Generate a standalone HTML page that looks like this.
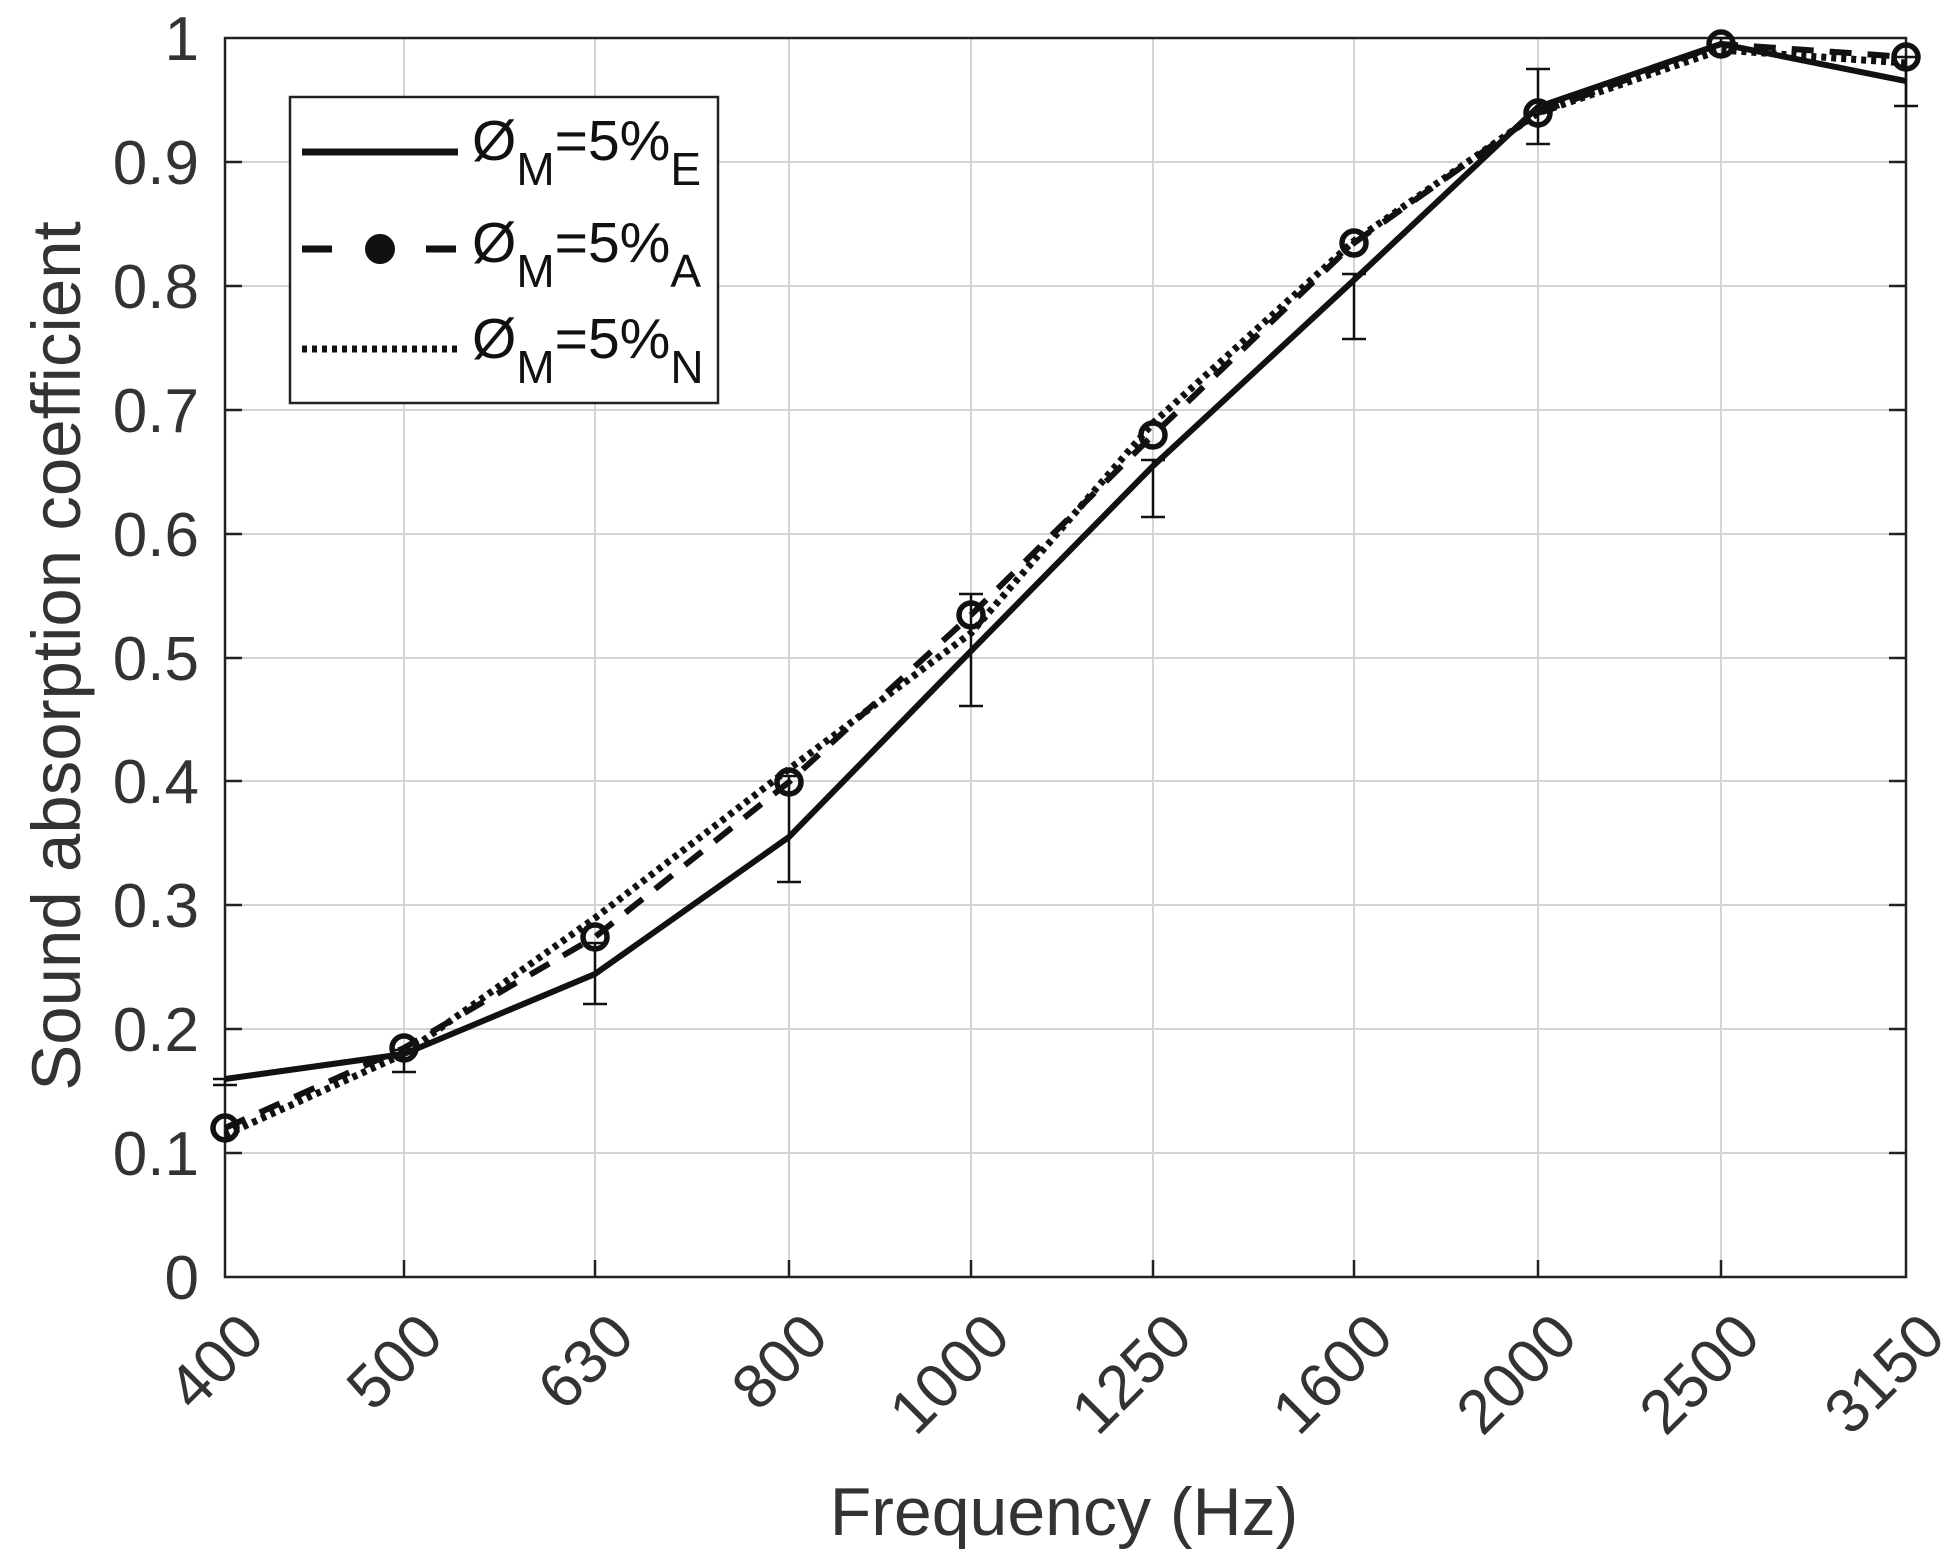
<!DOCTYPE html>
<html><head><meta charset="utf-8"><style>html,body{margin:0;padding:0;background:#fff}svg{display:block}</style></head>
<body>
<svg width="1960" height="1563" viewBox="0 0 1960 1563" xmlns="http://www.w3.org/2000/svg" font-family="Liberation Sans, sans-serif">
<rect width="1960" height="1563" fill="#fff"/>
<g stroke="#d4d4d4" stroke-width="2">
<line x1="404" y1="38" x2="404" y2="1277"/><line x1="595" y1="38" x2="595" y2="1277"/><line x1="789" y1="38" x2="789" y2="1277"/><line x1="971" y1="38" x2="971" y2="1277"/><line x1="1153" y1="38" x2="1153" y2="1277"/><line x1="1354" y1="38" x2="1354" y2="1277"/><line x1="1538" y1="38" x2="1538" y2="1277"/><line x1="1721" y1="38" x2="1721" y2="1277"/>
<line x1="225" y1="162" x2="1906" y2="162"/><line x1="225" y1="286" x2="1906" y2="286"/><line x1="225" y1="410" x2="1906" y2="410"/><line x1="225" y1="534" x2="1906" y2="534"/><line x1="225" y1="658" x2="1906" y2="658"/><line x1="225" y1="781" x2="1906" y2="781"/><line x1="225" y1="905" x2="1906" y2="905"/><line x1="225" y1="1029" x2="1906" y2="1029"/><line x1="225" y1="1153" x2="1906" y2="1153"/>
</g>
<rect x="225" y="38" width="1681" height="1239" fill="none" stroke="#222" stroke-width="2.5"/>
<g stroke="#222" stroke-width="2.5">
<line x1="404" y1="1277" x2="404" y2="1260"/><line x1="595" y1="1277" x2="595" y2="1260"/><line x1="789" y1="1277" x2="789" y2="1260"/><line x1="971" y1="1277" x2="971" y2="1260"/><line x1="1153" y1="1277" x2="1153" y2="1260"/><line x1="1354" y1="1277" x2="1354" y2="1260"/><line x1="1538" y1="1277" x2="1538" y2="1260"/><line x1="1721" y1="1277" x2="1721" y2="1260"/>
<line x1="225" y1="162" x2="242" y2="162"/><line x1="225" y1="286" x2="242" y2="286"/><line x1="225" y1="410" x2="242" y2="410"/><line x1="225" y1="534" x2="242" y2="534"/><line x1="225" y1="658" x2="242" y2="658"/><line x1="225" y1="781" x2="242" y2="781"/><line x1="225" y1="905" x2="242" y2="905"/><line x1="225" y1="1029" x2="242" y2="1029"/><line x1="225" y1="1153" x2="242" y2="1153"/>
<line x1="1906" y1="162" x2="1889" y2="162"/><line x1="1906" y1="286" x2="1889" y2="286"/><line x1="1906" y1="410" x2="1889" y2="410"/><line x1="1906" y1="534" x2="1889" y2="534"/><line x1="1906" y1="658" x2="1889" y2="658"/><line x1="1906" y1="781" x2="1889" y2="781"/><line x1="1906" y1="905" x2="1889" y2="905"/><line x1="1906" y1="1029" x2="1889" y2="1029"/><line x1="1906" y1="1153" x2="1889" y2="1153"/>
</g>
<g font-size="62" fill="#333" text-anchor="end">
<text x="199" y="1299">0</text><text x="199" y="1175">0.1</text><text x="199" y="1051">0.2</text><text x="199" y="927">0.3</text><text x="199" y="803">0.4</text><text x="199" y="680">0.5</text><text x="199" y="556">0.6</text><text x="199" y="432">0.7</text><text x="199" y="308">0.8</text><text x="199" y="184">0.9</text><text x="199" y="60">1</text>
</g>
<g font-size="62" fill="#333" text-anchor="end">
<text transform="translate(267,1340) rotate(-45)">400</text>
<text transform="translate(446,1340) rotate(-45)">500</text>
<text transform="translate(637,1340) rotate(-45)">630</text>
<text transform="translate(831,1340) rotate(-45)">800</text>
<text transform="translate(1013,1340) rotate(-45)">1000</text>
<text transform="translate(1195,1340) rotate(-45)">1250</text>
<text transform="translate(1396,1340) rotate(-45)">1600</text>
<text transform="translate(1580,1340) rotate(-45)">2000</text>
<text transform="translate(1763,1340) rotate(-45)">2500</text>
<text transform="translate(1948,1340) rotate(-45)">3150</text>
</g>
<text x="1064" y="1535" font-size="68" fill="#333" text-anchor="middle">Frequency (Hz)</text>
<text transform="translate(80,656) rotate(-90)" font-size="69" fill="#333" text-anchor="middle">Sound absorption coefficient</text>
<g stroke="#111" stroke-width="2.5" fill="none">
<path d="M225 1079V1085M213 1079H237M213 1085H237"/>
<path d="M404 1050V1072M392 1050H416M392 1072H416"/>
<path d="M595 943V1004M583 943H607M583 1004H607"/>
<path d="M789 776V882M777 776H801M777 882H801"/>
<path d="M971 594V706M959 594H983M959 706H983"/>
<path d="M1153 460V517M1141 460H1165M1141 517H1165"/>
<path d="M1354 274V339M1342 274H1366M1342 339H1366"/>
<path d="M1538 69V144M1526 69H1550M1526 144H1550"/>
<path d="M1721 38V45M1709 38H1733M1709 45H1733"/>
<path d="M1906 57V106M1894 57H1918M1894 106H1918"/>
</g>
<polyline fill="none" stroke="#111" stroke-width="6" points="225,1079 404,1054 595,974 789,837 971,651 1153,466 1354,280 1538,107 1721,44 1906,81"/>
<polyline fill="none" stroke="#111" stroke-width="7" stroke-dasharray="5,5" points="225,1135 404,1054 595,918 789,769 971,633 1153,423 1354,241 1538,113 1721,50 1906,63"/>
<polyline fill="none" stroke="#111" stroke-width="6" stroke-dasharray="22,16" points="225,1128 404,1048 595,937 789,782 971,615 1153,435 1354,243 1538,113 1721,44 1906,57"/>
<g fill="none" stroke="#111" stroke-width="5.5">
<circle cx="225" cy="1128" r="12"/><circle cx="404" cy="1048" r="12"/><circle cx="595" cy="937" r="12"/><circle cx="789" cy="782" r="12"/><circle cx="971" cy="615" r="12"/><circle cx="1153" cy="435" r="12"/><circle cx="1354" cy="243" r="12"/><circle cx="1538" cy="113" r="12"/><circle cx="1721" cy="44" r="12"/><circle cx="1906" cy="57" r="12"/>
</g>
<rect x="290" y="97" width="428" height="306" fill="#fff" stroke="#222" stroke-width="2.5"/>
<line x1="302" y1="152" x2="458" y2="152" stroke="#111" stroke-width="7"/>
<line x1="302" y1="249" x2="458" y2="249" stroke="#111" stroke-width="7" stroke-dasharray="30,94"/>
<circle cx="380" cy="249" r="13" fill="#111" stroke="#111" stroke-width="4"/>
<line x1="302" y1="349" x2="458" y2="349" stroke="#111" stroke-width="7" stroke-dasharray="5,5"/>
<g font-size="57" fill="#111">
<text x="472" y="160">Ø<tspan font-size="46" dy="25">M</tspan><tspan dy="-25">=5%</tspan><tspan font-size="46" dy="25">E</tspan></text>
<text x="472" y="262">Ø<tspan font-size="46" dy="25">M</tspan><tspan dy="-25">=5%</tspan><tspan font-size="46" dy="25">A</tspan></text>
<text x="472" y="358">Ø<tspan font-size="46" dy="25">M</tspan><tspan dy="-25">=5%</tspan><tspan font-size="46" dy="25">N</tspan></text>
</g>
</svg>
</body></html>
